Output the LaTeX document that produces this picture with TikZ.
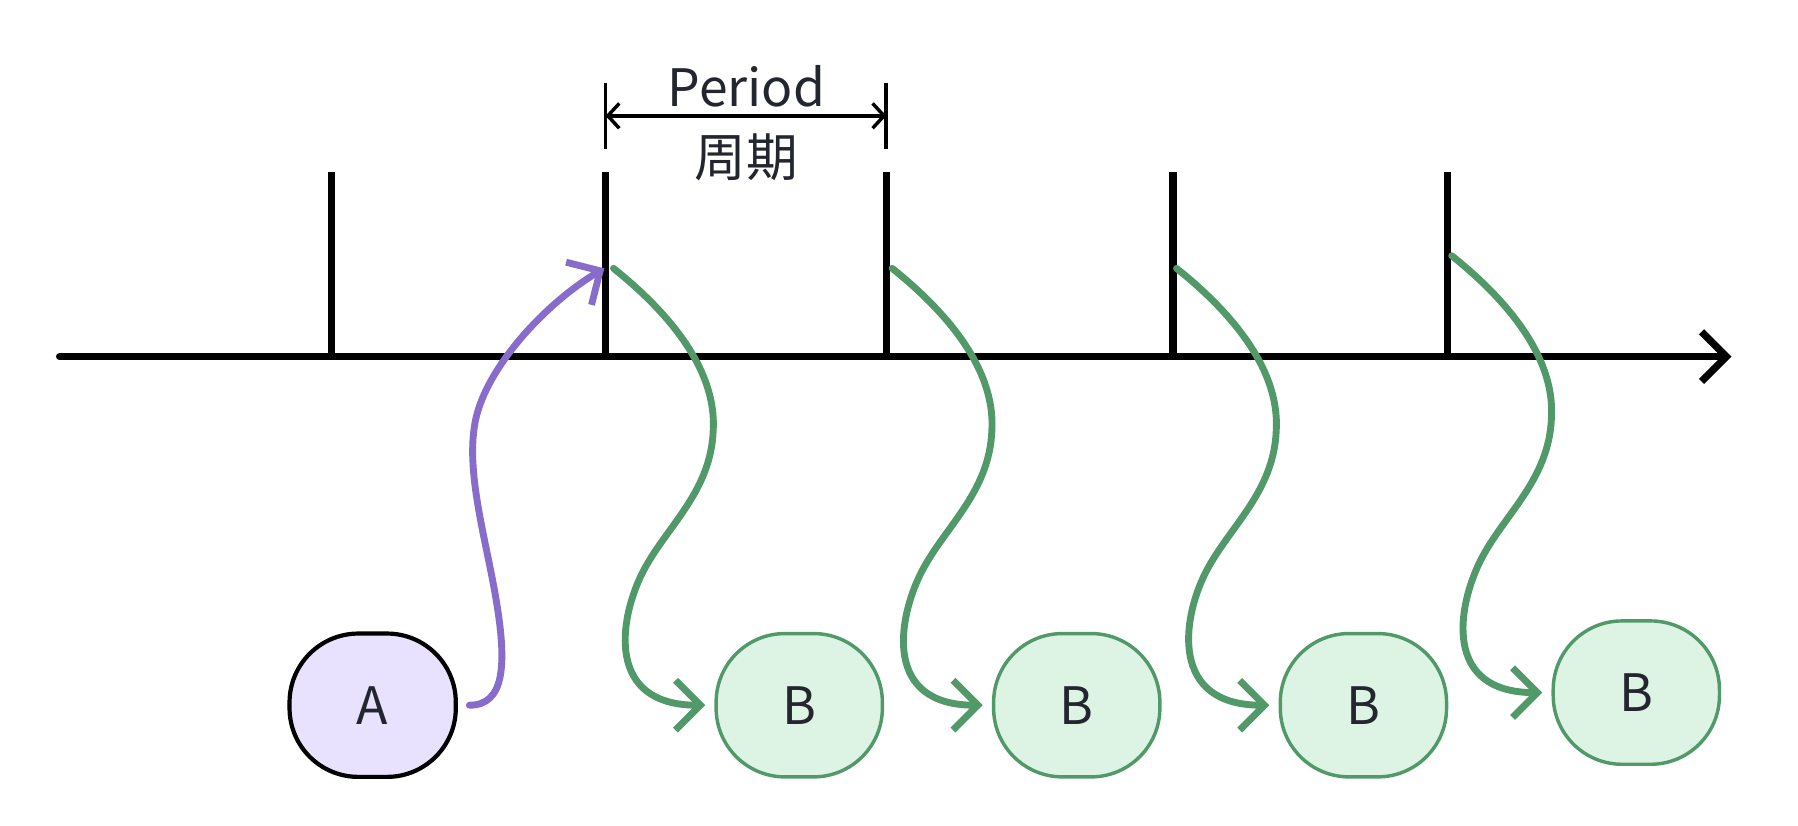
\documentclass[tikz,border=0pt]{standalone}
\usepackage{fontspec}
\newfontfamily\cjk{Noto Sans CJK SC}
\usetikzlibrary{arrows.meta,calc}
\definecolor{ink}{HTML}{23262F}
\definecolor{lilac}{HTML}{886CCC}
\definecolor{lilacfill}{HTML}{E8E2FE}
\definecolor{leaf}{HTML}{52996A}
\definecolor{leaffill}{HTML}{DDF3E4}
\begin{document}
\begin{tikzpicture}[x=0.6pt,y=-0.6pt,
  txt/.style={font=\cjk\fontsize{27}{33}\selectfont,text=ink},
  blob/.style={rectangle,rounded corners=36pt,minimum width=87pt,minimum height=75pt,txt},
  tick/.style={line width=3.8pt},
  barb/.style={-{Straight Barb[length=13pt,width=26pt]},line cap=round,line join=round},
  flow/.style={barb,line width=3.6pt}]
\useasboundingbox (0,0) rectangle (1568,720);
% time axis
\coordinate (o) at (52,311);
\coordinate (e) at (1510,311);
\draw [barb,line width=3.8pt] (o) -- (e);
\foreach \x [count=\i] in {289,528,773,1023,1262}
  \draw [tick] (\x,150) coordinate (k\i) -- (\x,311);
% period bracket
\draw [line width=2pt] (528,72) -- (528,130);
\draw [line width=2pt] (773,72) -- (773,130);
\draw [line width=1.8pt,{Straight Barb[length=6pt,width=13pt]}-{Straight Barb[length=6pt,width=13pt]}] (528,101) -- (773,101);
\node [txt] (per) at (651,75) {Period};
\node [txt] (zq) at (651,137) {周期};
% tasks
\node [blob,draw=black,line width=2.2pt,fill=lilacfill] (a) at (325,615) {A};
\node [blob,draw=leaf,line width=1.8pt,fill=leaffill] (b1) at (697,615) {B};
\node [blob,draw=leaf,line width=1.8pt,fill=leaffill] (b2) at (939,615) {B};
\node [blob,draw=leaf,line width=1.8pt,fill=leaffill] (b3) at (1189,615) {B};
\node [blob,draw=leaf,line width=1.8pt,fill=leaffill] (b4) at (1427,604) {B};
\coordinate (t1) at (527,234);
\draw [flow,draw=lilac] ($(a.east)+(10,0)$) .. controls (440,615) and (442,580) .. (433,525)
  .. controls (424,470) and (405,410) .. (415,365)
  .. controls (425,320) and (475,265) .. (t1);
% triggers
\coordinate (s1) at (535,234);
\coordinate (s2) at (778,234);
\coordinate (s3) at (1026,234);
\coordinate (s4) at (1266,223);
\foreach \i in {1,...,4}
  \draw [flow,draw=leaf] (s\i) .. controls +(45,36) and +(3,-55) .. ++(87,141)
    .. controls +(-2,55) and +(20,-40) .. ++(-62,125)
    .. controls +(-20,40) and +(-87,0) .. ($(b\i.west)+(-8,0)$);
\end{tikzpicture}
\end{document}
